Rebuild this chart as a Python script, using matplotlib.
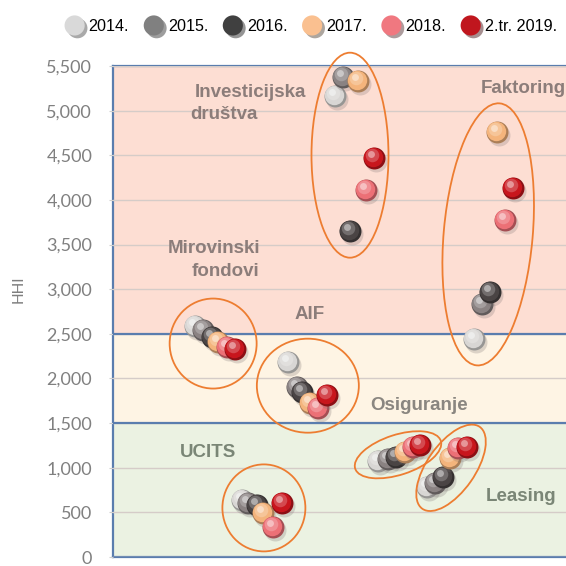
import matplotlib
matplotlib.use("Agg")
import matplotlib.pyplot as plt
import matplotlib.transforms as mtransforms
import matplotlib.patheffects as pe
from matplotlib.patches import Ellipse
from matplotlib.lines import Line2D
from matplotlib.colors import to_rgb

# clusters (left-to-right order of the arrays below)
groups = ["Investicijska društva", "Faktoring", "Mirovinski fondovi", "AIF",
          "UCITS", "Osiguranje", "Leasing"]
years = ["2014.", "2015.", "2016.", "2017.", "2018.", "2.tr. 2019."]

# horizontal position of each ball (no scale on the x axis)
x_2014 = [49.0, 79.7, 18.1, 38.6, 28.5, 58.5, 69.3]
x_2015 = [50.8, 81.5, 19.9, 40.6, 29.8, 60.7, 71.1]
x_2016 = [52.3, 83.2, 21.9, 41.7, 31.8, 62.5, 72.8]
x_2017 = [54.1, 84.8, 23.2, 43.5, 33.1, 64.5, 74.4]
x_2018 = [55.8, 86.5, 25.2, 45.3, 35.3, 66.2, 76.2]
x_2019 = [57.6, 88.3, 26.9, 47.2, 37.3, 67.8, 78.1]

# HHI values
hhi_2014 = [5163, 2447, 2582, 2189, 640, 1078, 786]
hhi_2015 = [5376, 2829, 2548, 1908, 606, 1100, 830]
hhi_2016 = [3648, 2974, 2469, 1852, 584, 1122, 898]
hhi_2017 = [5331, 4759, 2413, 1728, 494, 1179, 1111]
hhi_2018 = [4108, 3771, 2357, 1672, 337, 1235, 1223]
hhi_2019 = [4467, 4130, 2335, 1818, 606, 1257, 1235]

xs = [x_2014, x_2015, x_2016, x_2017, x_2018, x_2019]
ys = [hhi_2014, hhi_2015, hhi_2016, hhi_2017, hhi_2018, hhi_2019]
ball_colors = ["#D8D6D4", "#8A8282", "#4A4444", "#F4B47C", "#EC7076", "#C8161D"]
legend_colors = ["#D9D9D9", "#808080", "#404040", "#FAC090", "#F07880", "#C0161E"]


def mix(c, other, f):
    a, b = to_rgb(c), to_rgb(other)
    return tuple(a[i] * (1 - f) + b[i] * f for i in range(3))


fig = plt.figure(figsize=(5.66, 5.66), dpi=100)
ax = fig.add_axes([113 / 566, 9 / 566, 464 / 566, 491 / 566])
ax.set_xlim(0, 102.4)
ax.set_ylim(0, 5500)

blue = "#5A7DAE"
ax.axhspan(2500, 5500, facecolor="#FDDED3", edgecolor="none", zorder=1)
ax.axhspan(1500, 2500, facecolor="#FEF4E4", edgecolor="none", zorder=1)
ax.axhspan(0, 1500, facecolor="#EBF2E2", edgecolor="none", zorder=1)
for h in (1500, 2500):
    ax.axhline(h, color=blue, lw=1.6, zorder=2.6)

ax.set_yticks(range(0, 5501, 500))
ax.yaxis.set_major_formatter(plt.FuncFormatter(lambda v, p: f"{v:,.0f}"))
ax.yaxis.grid(True, color="#D5CCC8", lw=1)
ax.set_axisbelow(False)
ax.set_xticks([])
ax.tick_params(axis="y", length=3, color="#D0D0D0", pad=12,
               labelsize=13, labelcolor="#808080")
for lab in ax.get_yticklabels():
    lab.set_family("Lato")
for side in ("left", "top", "bottom", "right"):
    ax.spines[side].set_color(blue)
    ax.spines[side].set_linewidth(1.6)
ax.set_ylabel("HHI", family="Lato", fontsize=11, color="#7F7F7F")
ax.yaxis.set_label_coords(-87 / 464, 0.545)

# spheres: shadow, dark rim, body, highlight
for k in range(6):
    c = ball_colors[k]
    z = 4 + k
    shadow = mtransforms.offset_copy(ax.transData, fig, x=2, y=-3, units="dots")
    ax.scatter(xs[k], ys[k], s=250, color="#7A7070", alpha=0.25, lw=0,
               transform=shadow, zorder=z)
    ax.scatter(xs[k], ys[k], s=250, color=mix(c, "black", 0.3), lw=0, zorder=z)
    body = mtransforms.offset_copy(ax.transData, fig, x=-1, y=1, units="dots")
    ax.scatter(xs[k], ys[k], s=195, color=c, lw=0, transform=body, zorder=z)
    mid = mtransforms.offset_copy(ax.transData, fig, x=-2, y=3, units="dots")
    ax.scatter(xs[k], ys[k], s=95, color=mix(c, "white", 0.22), lw=0,
               transform=mid, zorder=z)
    hl = mtransforms.offset_copy(ax.transData, fig, x=-3, y=4, units="dots")
    ax.scatter(xs[k], ys[k], s=25, color=mix(c, "white", 0.55), lw=0,
               transform=hl, zorder=z)

# orange rings round each cluster: centre (data), width, height (px), angle
rings = [
    (52.3, 4501, 77, 205, 0),
    (82.8, 3614, 89, 263, -5),
    (22.1, 2391, 87, 90, 0),
    (43.0, 1919, 102, 94, 0),
    (33.3, 550, 83, 87, 0),
    (62.9, 1145, 90, 40, 18),
    (74.6, 999, 100, 48, 55),
]
for cx, cy, w, h, a in rings:
    tr = fig.dpi_scale_trans + mtransforms.ScaledTranslation(cx, cy, ax.transData)
    ax.add_patch(Ellipse((0, 0), w / 100, h / 100, angle=a, fill=False,
                         edgecolor="#ED7D31", lw=1.3, transform=tr,
                         clip_on=False, zorder=12))

lbl = dict(family="Liberation Sans", fontsize=13.5, fontweight="bold",
           va="center", zorder=13)
ax.text(18.1, 5208, "Investicijska", color="#8C7D7A", ha="left", **lbl)
ax.text(17.0, 4961, "društva", color="#8C7D7A", ha="left", **lbl)
ax.text(81.1, 5253, "Faktoring", color="#8C7D7A", ha="left", **lbl)
ax.text(32.5, 3457, "Mirovinski", color="#8C7D7A", ha="right", **lbl)
ax.text(32.2, 3199, "fondovi", color="#8C7D7A", ha="right", **lbl)
ax.text(43.3, 2716, "AIF", color="#8C7D7A", ha="center", **lbl)
ax.text(56.7, 1695, "Osiguranje", color="#8A8680", ha="left", **lbl)
ax.text(14.8, 1167, "UCITS", color="#7A8676", ha="left", **lbl)
ax.text(82.3, 673, "Leasing", color="#7A8676", ha="left", **lbl)

handles = [Line2D([], [], marker="o", ls="", markersize=14.5,
                  markerfacecolor=c, markeredgecolor="none",
                  path_effects=[pe.SimplePatchShadow(offset=(2, -2), alpha=0.45),
                                pe.Normal()])
           for c in legend_colors]
fig.legend(handles, years, ncol=6, loc="center", bbox_to_anchor=(0.549, 0.953),
           frameon=False, handlelength=1.25, handletextpad=0.25,
           columnspacing=0.9, borderaxespad=0,
           prop={"family": "Liberation Sans", "size": 11.6})

fig.savefig("out.png", dpi=100)
